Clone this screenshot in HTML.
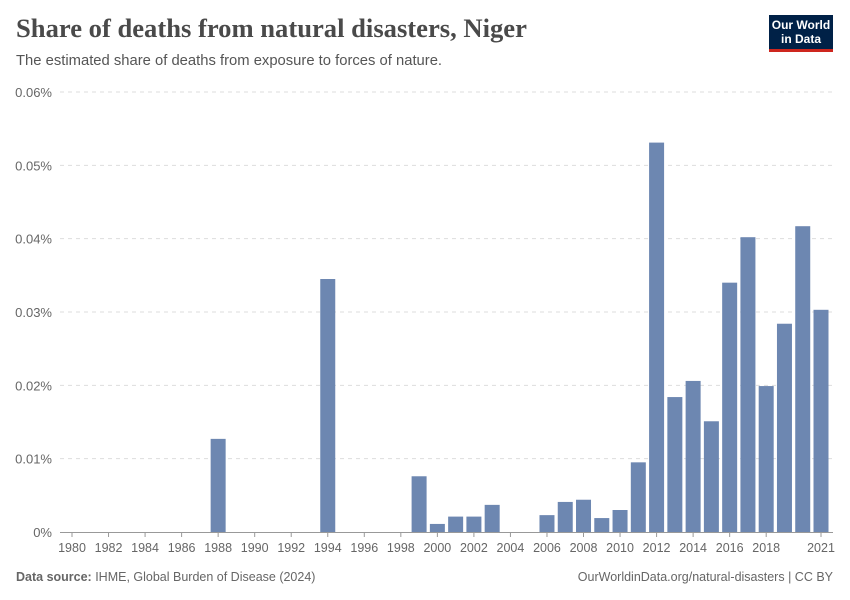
<!DOCTYPE html>
<html><head><meta charset="utf-8"><style>
body{margin:0;width:850px;height:600px;background:#fff;font-family:"Liberation Sans",sans-serif;position:relative;overflow:hidden}
.t{position:absolute;left:16px;top:13px;font-family:"Liberation Serif",serif;font-size:26.6px;font-weight:bold;color:#4a4a4a}
.s{position:absolute;left:16px;top:53px;font-size:14.8px;color:#555}
.logo{position:absolute;left:769px;top:15px;width:64px;height:37px;background:#002147;color:#fff;font-size:12px;font-weight:bold;text-align:center;line-height:14px;padding-top:3px;box-sizing:border-box;border-bottom:3px solid #ce261e}
.f{position:absolute;top:570px;font-size:12.5px;color:#666}
</style></head><body>
<div class="t">Share of deaths from natural disasters, Niger</div>
<div class="s">The estimated share of deaths from exposure to forces of nature.</div>
<div class="logo">Our World<br>in Data</div>
<svg id="c" width="850" height="600" style="position:absolute;left:0;top:0"></svg>
<div class="f" style="left:16px"><b>Data source:</b> IHME, Global Burden of Disease (2024)</div>
<div class="f" style="right:17px">OurWorldinData.org/natural-disasters | CC BY</div>
<script>
const years=[1988,1994,1999,2000,2001,2002,2003,2006,2007,2008,2009,2010,2011,2012,2013,2014,2015,2016,2017,2018,2019,2020,2021];
const values=[0.0127,0.0345,0.0076,0.0011,0.0021,0.0021,0.0037,0.0023,0.0041,0.0044,0.0019,0.0030,0.0095,0.0531,0.0184,0.0206,0.0151,0.0340,0.0402,0.0199,0.0284,0.0417,0.0303];
const yTicks=[0,0.01,0.02,0.03,0.04,0.05,0.06];
const xTicks=[1980,1982,1984,1986,1988,1990,1992,1994,1996,1998,2000,2002,2004,2006,2008,2010,2012,2014,2016,2018,2021];
const svg=document.getElementById('c');const NS='http://www.w3.org/2000/svg';
const x=v=>72+(v-1980)*(821-72)/41;
const y=v=>532-v*(532-92)/0.06;
function mk(t,a){const e=document.createElementNS(NS,t);for(const k in a)e.setAttribute(k,a[k]);svg.appendChild(e);return e;}
yTicks.forEach(v=>{
 if(v>0){const l=mk('line',{x1:60,x2:833,y1:y(v),y2:y(v),stroke:'#ddd','stroke-dasharray':'4,4'});
 
 }
 const t=mk('text',{x:52,y:y(v)+5,'text-anchor':'end','font-size':13,fill:'#666'});t.textContent=v+'%';
 
 
});
years.forEach((yr,i)=>{
 const r=mk('rect',{x:x(yr)-7.5,y:y(values[i]),width:15,height:532-y(values[i]),fill:'#6d87b1'});
 
 
});
const ax=mk('line',{x1:60,x2:833,y1:532.5,y2:532.5,stroke:'#999'});


xTicks.forEach(v=>{
 const tk=mk('line',{x1:x(v),x2:x(v),y1:532,y2:537,stroke:'#999'});
 
 
 const t=mk('text',{x:x(v),y:552,'text-anchor':'middle','font-size':12.5,fill:'#666'});t.textContent=v;
 
 
});
</script>
</body></html>
